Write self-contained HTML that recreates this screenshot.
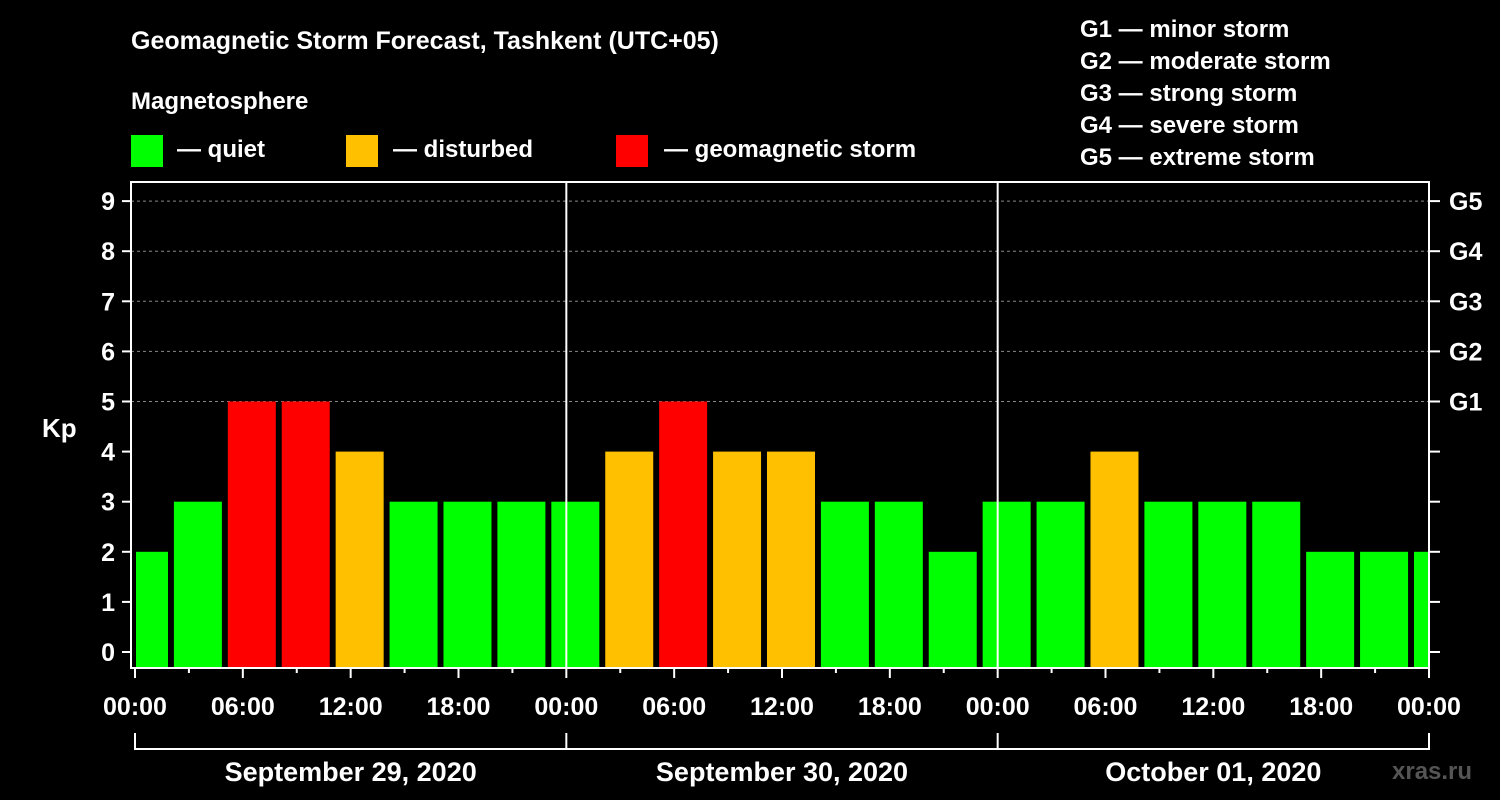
<!DOCTYPE html>
<html><head><meta charset="utf-8"><style>
body{margin:0;background:#000;width:1500px;height:800px;overflow:hidden}
svg{display:block}
text{font-family:"Liberation Sans",sans-serif;font-weight:bold;fill:#fff}
</style></head><body>
<svg id="c" width="1500" height="800">
<text x="131" y="49" font-size="25">Geomagnetic Storm Forecast, Tashkent (UTC+05)</text>
<text x="131" y="109" font-size="24">Magnetosphere</text>
<rect x="131" y="135" width="32" height="32" fill="#00ff00"/>
<text x="177" y="157" font-size="24">— quiet</text>
<rect x="346" y="135" width="32" height="32" fill="#ffc000"/>
<text x="393" y="157" font-size="24">— disturbed</text>
<rect x="616" y="135" width="32" height="32" fill="#ff0000"/>
<text x="664" y="157" font-size="24">— geomagnetic storm</text>
<g font-size="24">
<text x="1080" y="37">G1 — minor storm</text>
<text x="1080" y="69">G2 — moderate storm</text>
<text x="1080" y="101">G3 — strong storm</text>
<text x="1080" y="133">G4 — severe storm</text>
<text x="1080" y="165">G5 — extreme storm</text>
</g>
<text x="42" y="437" font-size="26">Kp</text>
<text x="1392" y="779" font-size="24" fill="#555" style="fill:#555">xras.ru</text>
<g id="g"></g>
</svg>
<script>
const kpValues=[2,3,5,5,4,3,3,3,3,4,5,4,4,3,3,2,3,3,4,3,3,3,2,2,2];
const yTicks=[0,1,2,3,4,5,6,7,8,9];
const gLabels=["G1","G2","G3","G4","G5"];
const xTickLabels=["00:00","06:00","12:00","18:00","00:00","06:00","12:00","18:00","00:00","06:00","12:00","18:00","00:00"];
const dayLabels=["September 29, 2020","September 30, 2020","October 01, 2020"];
const L=131,R=1429,T=182,B=668,X0=135,XE=1429;
const xs=h=>X0+h*(XE-X0)/72;
const ys=v=>652-v*50.1;
const NS="http://www.w3.org/2000/svg";
const g=document.getElementById('g');
function mk(t,a){const e=document.createElementNS(NS,t);for(const k in a)e.setAttribute(k,a[k]);g.appendChild(e);return e;}
const clip=mk('clipPath',{id:'pc'});clip.appendChild(Object.assign(document.createElementNS(NS,'rect'),{}));
clip.firstChild.setAttribute('x',X0+1);clip.firstChild.setAttribute('y',T);clip.firstChild.setAttribute('width',XE-X0-1);clip.firstChild.setAttribute('height',B-T);
for(let v=5;v<=9;v++){const l=mk('line',{x1:L,x2:R,y1:ys(v),y2:ys(v),stroke:'#888','stroke-dasharray':'3,3','stroke-width':1});

}
kpValues.forEach((v,k)=>{const c=(0.5+3*k);const w=48;const x=xs(c)-w/2;
const col=v>=5?'#ff0000':v>=4?'#ffc000':'#00ff00';
const r=mk('rect',{x:x,y:ys(v),width:w,height:B-1-ys(v),fill:col,'clip-path':'url(#pc)'});

});
for(let d=1;d<3;d++){const l=mk('line',{x1:xs(24*d),x2:xs(24*d),y1:T,y2:B,stroke:'#fff','stroke-width':2});

}
const f=mk('rect',{x:L,y:T,width:R-L,height:B-T,fill:'none',stroke:'#fff','stroke-width':2});


yTicks.forEach(v=>{mk('line',{x1:122,x2:L,y1:ys(v),y2:ys(v),stroke:'#fff','stroke-width':2});mk('line',{x1:R,x2:1440,y1:ys(v),y2:ys(v),stroke:'#fff','stroke-width':2});
const t=mk('text',{x:115,y:ys(v)+9,'font-size':25,'text-anchor':'end'});t.textContent=v;

});
gLabels.forEach((s,i)=>{const t=mk('text',{x:1449,y:ys(5+i)+9,'font-size':25});t.textContent=s;

});
for(let h=0;h<=72;h+=3){const maj=h%6==0;mk('line',{x1:xs(h),x2:xs(h),y1:B,y2:B+(maj?10:5),stroke:'#fff','stroke-width':2});}
xTickLabels.forEach((s,i)=>{const t=mk('text',{x:xs(6*i),y:715,'font-size':25,'text-anchor':'middle'});t.textContent=s;

});
mk('line',{x1:xs(0),x2:xs(72),y1:749,y2:749,stroke:'#fff','stroke-width':2});
for(let d=0;d<=3;d++)mk('line',{x1:xs(24*d),x2:xs(24*d),y1:733,y2:750,stroke:'#fff','stroke-width':2});
dayLabels.forEach((s,i)=>{const t=mk('text',{x:xs(24*i+12),y:781,'font-size':27,'text-anchor':'middle'});t.textContent=s;

});
</script>
</body></html>
